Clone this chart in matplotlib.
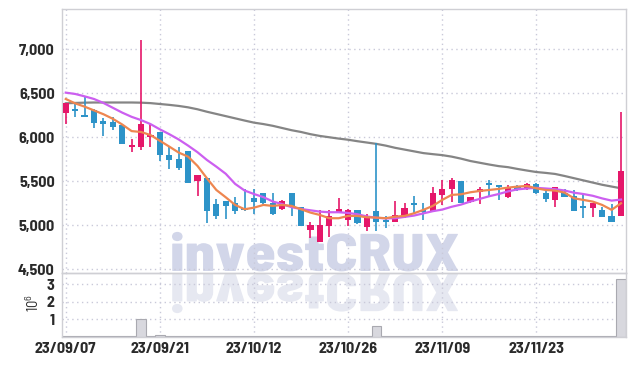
import numpy as np
import matplotlib
matplotlib.use('Agg')
import matplotlib.pyplot as plt
from matplotlib.ticker import FuncFormatter
from matplotlib.textpath import TextPath
from matplotlib.patches import PathPatch
from matplotlib.font_manager import FontProperties
from matplotlib.transforms import Affine2D, IdentityTransform

# ---------------- data ----------------
tick_idx = [0, 10, 20, 30, 40, 50]
tick_labels = ['23/09/07', '23/09/21', '23/10/12', '23/10/26', '23/11/09', '23/11/23']

opens = [6273, 6320, 6240, 6310, 6190, 6177, 6140, 5888, 5894, 6000,
         6060, 5799, 5750, 5840, 5507, 5538, 5242, 5276, 5257, 5189,
         5310, 5364, 5250, 5182, 5364, 5205, 4947, 4807, 4996, 5144,
         5061, 5175, 4985, 5163, 5061, 5042, 5106, 5250, 5175, 5166,
         5345, 5413, 5504, 5261, 5375, 5470, 5447, 5325, 5440, 5420,
         5470, 5364, 5288, 5371, 5333, 5212, 5201, 5175, 5106, 5106]
highs = [6390, 6390, 6460, 6320, 6215, 6230, 6150, 5980, 7105, 6160,
         6065, 5890, 5895, 5845, 5570, 5540, 5295, 5280, 5318, 5410,
         5410, 5365, 5365, 5285, 5365, 5210, 5041, 5175, 5175, 5307,
         5180, 5175, 5130, 5932, 5106, 5280, 5257, 5333, 5257, 5440,
         5515, 5534, 5505, 5320, 5440, 5515, 5450, 5458, 5460, 5475,
         5480, 5400, 5435, 5410, 5400, 5356, 5255, 5205, 5242, 6291]
lows = [6150, 6230, 6225, 6102, 6010, 6080, 5920, 5835, 5856, 5895,
        5725, 5640, 5630, 5480, 5333, 5030, 5070, 5069, 5130, 5165,
        5125, 5245, 5120, 5175, 5100, 4990, 4853, 4805, 4870, 5136,
        4990, 5020, 4940, 4940, 4966, 5040, 5080, 5130, 5060, 5160,
        5230, 5260, 5248, 5255, 5240, 5325, 5288, 5307, 5395, 5400,
        5360, 5270, 5205, 5320, 5165, 5080, 5098, 5095, 5040, 5100]
closes = [6386, 6300, 6230, 6166, 6150, 6120, 5924, 5900, 6151, 6025,
          5800, 5742, 5655, 5485, 5568, 5166, 5106, 5223, 5166, 5170,
          5265, 5250, 5125, 5273, 5205, 4996, 5000, 5000, 5106, 5182,
          5175, 5023, 5098, 5042, 5040, 5117, 5201, 5231, 5155, 5364,
          5409, 5515, 5250, 5318, 5413, 5455, 5430, 5420, 5400, 5466,
          5364, 5296, 5432, 5325, 5166, 5200, 5250, 5098, 5042, 5617]

ma_short = [6435, 6385, 6348, 6305, 6262, 6210, 6145, 6070, 6060, 6025,
            5960, 5894, 5826, 5780, 5674, 5534, 5401, 5318, 5231, 5182,
            5200, 5231, 5220, 5231, 5220, 5182, 5144, 5117, 5080, 5080,
            5106, 5106, 5091, 5087, 5080, 5098, 5106, 5136, 5175, 5220,
            5288, 5345, 5352, 5375, 5390, 5401, 5413, 5428, 5439, 5447,
            5420, 5401, 5394, 5371, 5307, 5288, 5269, 5231, 5175, 5250]
ma_mid = [6507, 6492, 6465, 6435, 6390, 6335, 6280, 6232, 6195, 6150,
          6090, 6035, 5975, 5905, 5830, 5742, 5666, 5585, 5470, 5395,
          5355, 5320, 5270, 5240, 5205, 5185, 5170, 5155, 5148, 5148,
          5140, 5125, 5100, 5085, 5078, 5080, 5095, 5110, 5135, 5160,
          5178, 5210, 5235, 5270, 5300, 5330, 5355, 5385, 5408, 5418,
          5425, 5418, 5410, 5395, 5370, 5355, 5335, 5305, 5280, 5292]
ma_long = [6386, 6390, 6393, 6395, 6395, 6395, 6395, 6395, 6393, 6388,
           6378, 6368, 6356, 6340, 6318, 6290, 6265, 6240, 6215, 6190,
           6166, 6150, 6130, 6105, 6080, 6060, 6035, 6015, 6000, 5985,
           5972, 5955, 5940, 5925, 5905, 5880, 5860, 5840, 5820, 5808,
           5797, 5780, 5757, 5730, 5710, 5690, 5672, 5660, 5640, 5622,
           5605, 5595, 5583, 5560, 5535, 5510, 5485, 5460, 5440, 5420]

volume_m = [0.02, 0.02, 0.02, 0.02, 0.02, 0.02, 0.02, 0.02, 1.00, 0.06,
            0.12, 0.02, 0.02, 0.02, 0.02, 0.05, 0.02, 0.02, 0.02, 0.02,
            0.02, 0.02, 0.02, 0.02, 0.02, 0.02, 0.02, 0.02, 0.02, 0.02,
            0.02, 0.02, 0.02, 0.60, 0.02, 0.05, 0.02, 0.02, 0.02, 0.05,
            0.02, 0.02, 0.06, 0.02, 0.05, 0.02, 0.02, 0.02, 0.02, 0.02,
            0.02, 0.02, 0.02, 0.02, 0.02, 0.02, 0.02, 0.02, 0.02, 3.30]

# ---------------- style ----------------
TICK_FONT = ['Barlow Semi Condensed', 'DejaVu Sans']
UP = '#e5176a'
DOWN = '#2d93c8'
TXT = '#2a2a2a'
GRID = '#c9c9d9'
SPINE = '#cfcfd4'

W, H = 634, 366
fig = plt.figure(figsize=(W / 100, H / 100), dpi=100)

left, right = 61.7, 626.0
p_top, p_bot, v_bot = 9.3, 272.7, 336.7
ax = fig.add_axes([left / W, 1 - p_bot / H, (right - left) / W, (p_bot - p_top) / H])
axv = fig.add_axes([left / W, 1 - v_bot / H, (right - left) / W, (v_bot - p_bot) / H], sharex=ax)
for a in (ax, axv):
    a.set_facecolor('none')
    for s in a.spines.values():
        s.set_color(SPINE)
        s.set_linewidth(1.0)

# watermark (with reflection)
fp = FontProperties(family=['Barlow Semi Condensed', 'DejaVu Sans'], weight=800)
tp = TextPath((0, 0), 'investCRUX', size=100, prop=fp)
bb = tp.get_extents()
cap = TextPath((0, 0), 'C', size=100, prop=fp).get_extents().height
sx = (458 - 172) / bb.width
sy = 38 / cap
tr_main = Affine2D().translate(-bb.x0, 0).scale(sx, sy).translate(172, H - 271)
tr_refl = Affine2D().translate(-bb.x0, 0).scale(sx, -sy).translate(172, H - 274)
fig.add_artist(PathPatch(tp, transform=tr_main + IdentityTransform(), facecolor='#d2d6e9',
                         edgecolor='none', zorder=-1))
fig.add_artist(PathPatch(tp, transform=tr_refl + IdentityTransform(), facecolor='#e6e8f1',
                         edgecolor='none', zorder=-1))

x = np.arange(len(closes))
o = np.array(opens, float)
c = np.array(closes, float)
hi = np.array(highs, float)
lo = np.array(lows, float)
cols = [UP if cc >= oo else DOWN for oo, cc in zip(o, c)]

ax.plot(x, ma_long, color='#858585', lw=1.6, zorder=2)
ax.vlines(x, lo, hi, colors=cols, lw=1.2, zorder=3)
ax.bar(x, np.maximum(np.abs(c - o), 22), bottom=np.minimum(o, c), width=0.66,
       color=cols, zorder=4, linewidth=0)
ax.plot(x, ma_mid, color='#cc5ff0', lw=1.6, zorder=5)
ax.plot(x, ma_short, color='#ee8650', lw=1.6, zorder=6)

ax.set_ylim(4461, 7454)
ax.set_yticks([4500, 5000, 5500, 6000, 6500, 7000])
ax.yaxis.set_major_formatter(FuncFormatter(lambda v, p: f'{v:,.0f}'))
ax.set_xlim(-0.43, 59.53)
ax.set_xticks(tick_idx)
ax.grid(True, ls=(0, (1, 2.5)), color=GRID, lw=1.0, zorder=0)
ax.tick_params(axis='x', labelbottom=False, length=0)
ax.tick_params(axis='y', length=0, pad=5, labelsize=11.5, labelcolor=TXT)

axv.bar(x, volume_m, width=1.0, color='#d8d8de', edgecolor='#a9a9b0', linewidth=0.8, zorder=2)
axv.set_ylim(0, 3.66)
axv.set_yticks([1, 2, 3])
axv.set_xticks(tick_idx)
axv.set_xticklabels(tick_labels)
axv.grid(True, ls=(0, (1, 2.5)), color=GRID, lw=1.0, zorder=0)
axv.tick_params(axis='both', length=0, labelsize=11.5, labelcolor=TXT)
axv.tick_params(axis='y', pad=5)
axv.tick_params(axis='x', pad=4)

for lab in ax.get_yticklabels() + axv.get_yticklabels() + axv.get_xticklabels():
    lab.set_fontfamily(TICK_FONT)
    lab.set_fontweight('bold')

fig.text(33 / W, 1 - 303 / H, r'$\mathregular{10^6}$', rotation=90, ha='center', va='center',
         fontsize=10.5, color=TXT, family=TICK_FONT)

fig.savefig('out.png', dpi=100)
